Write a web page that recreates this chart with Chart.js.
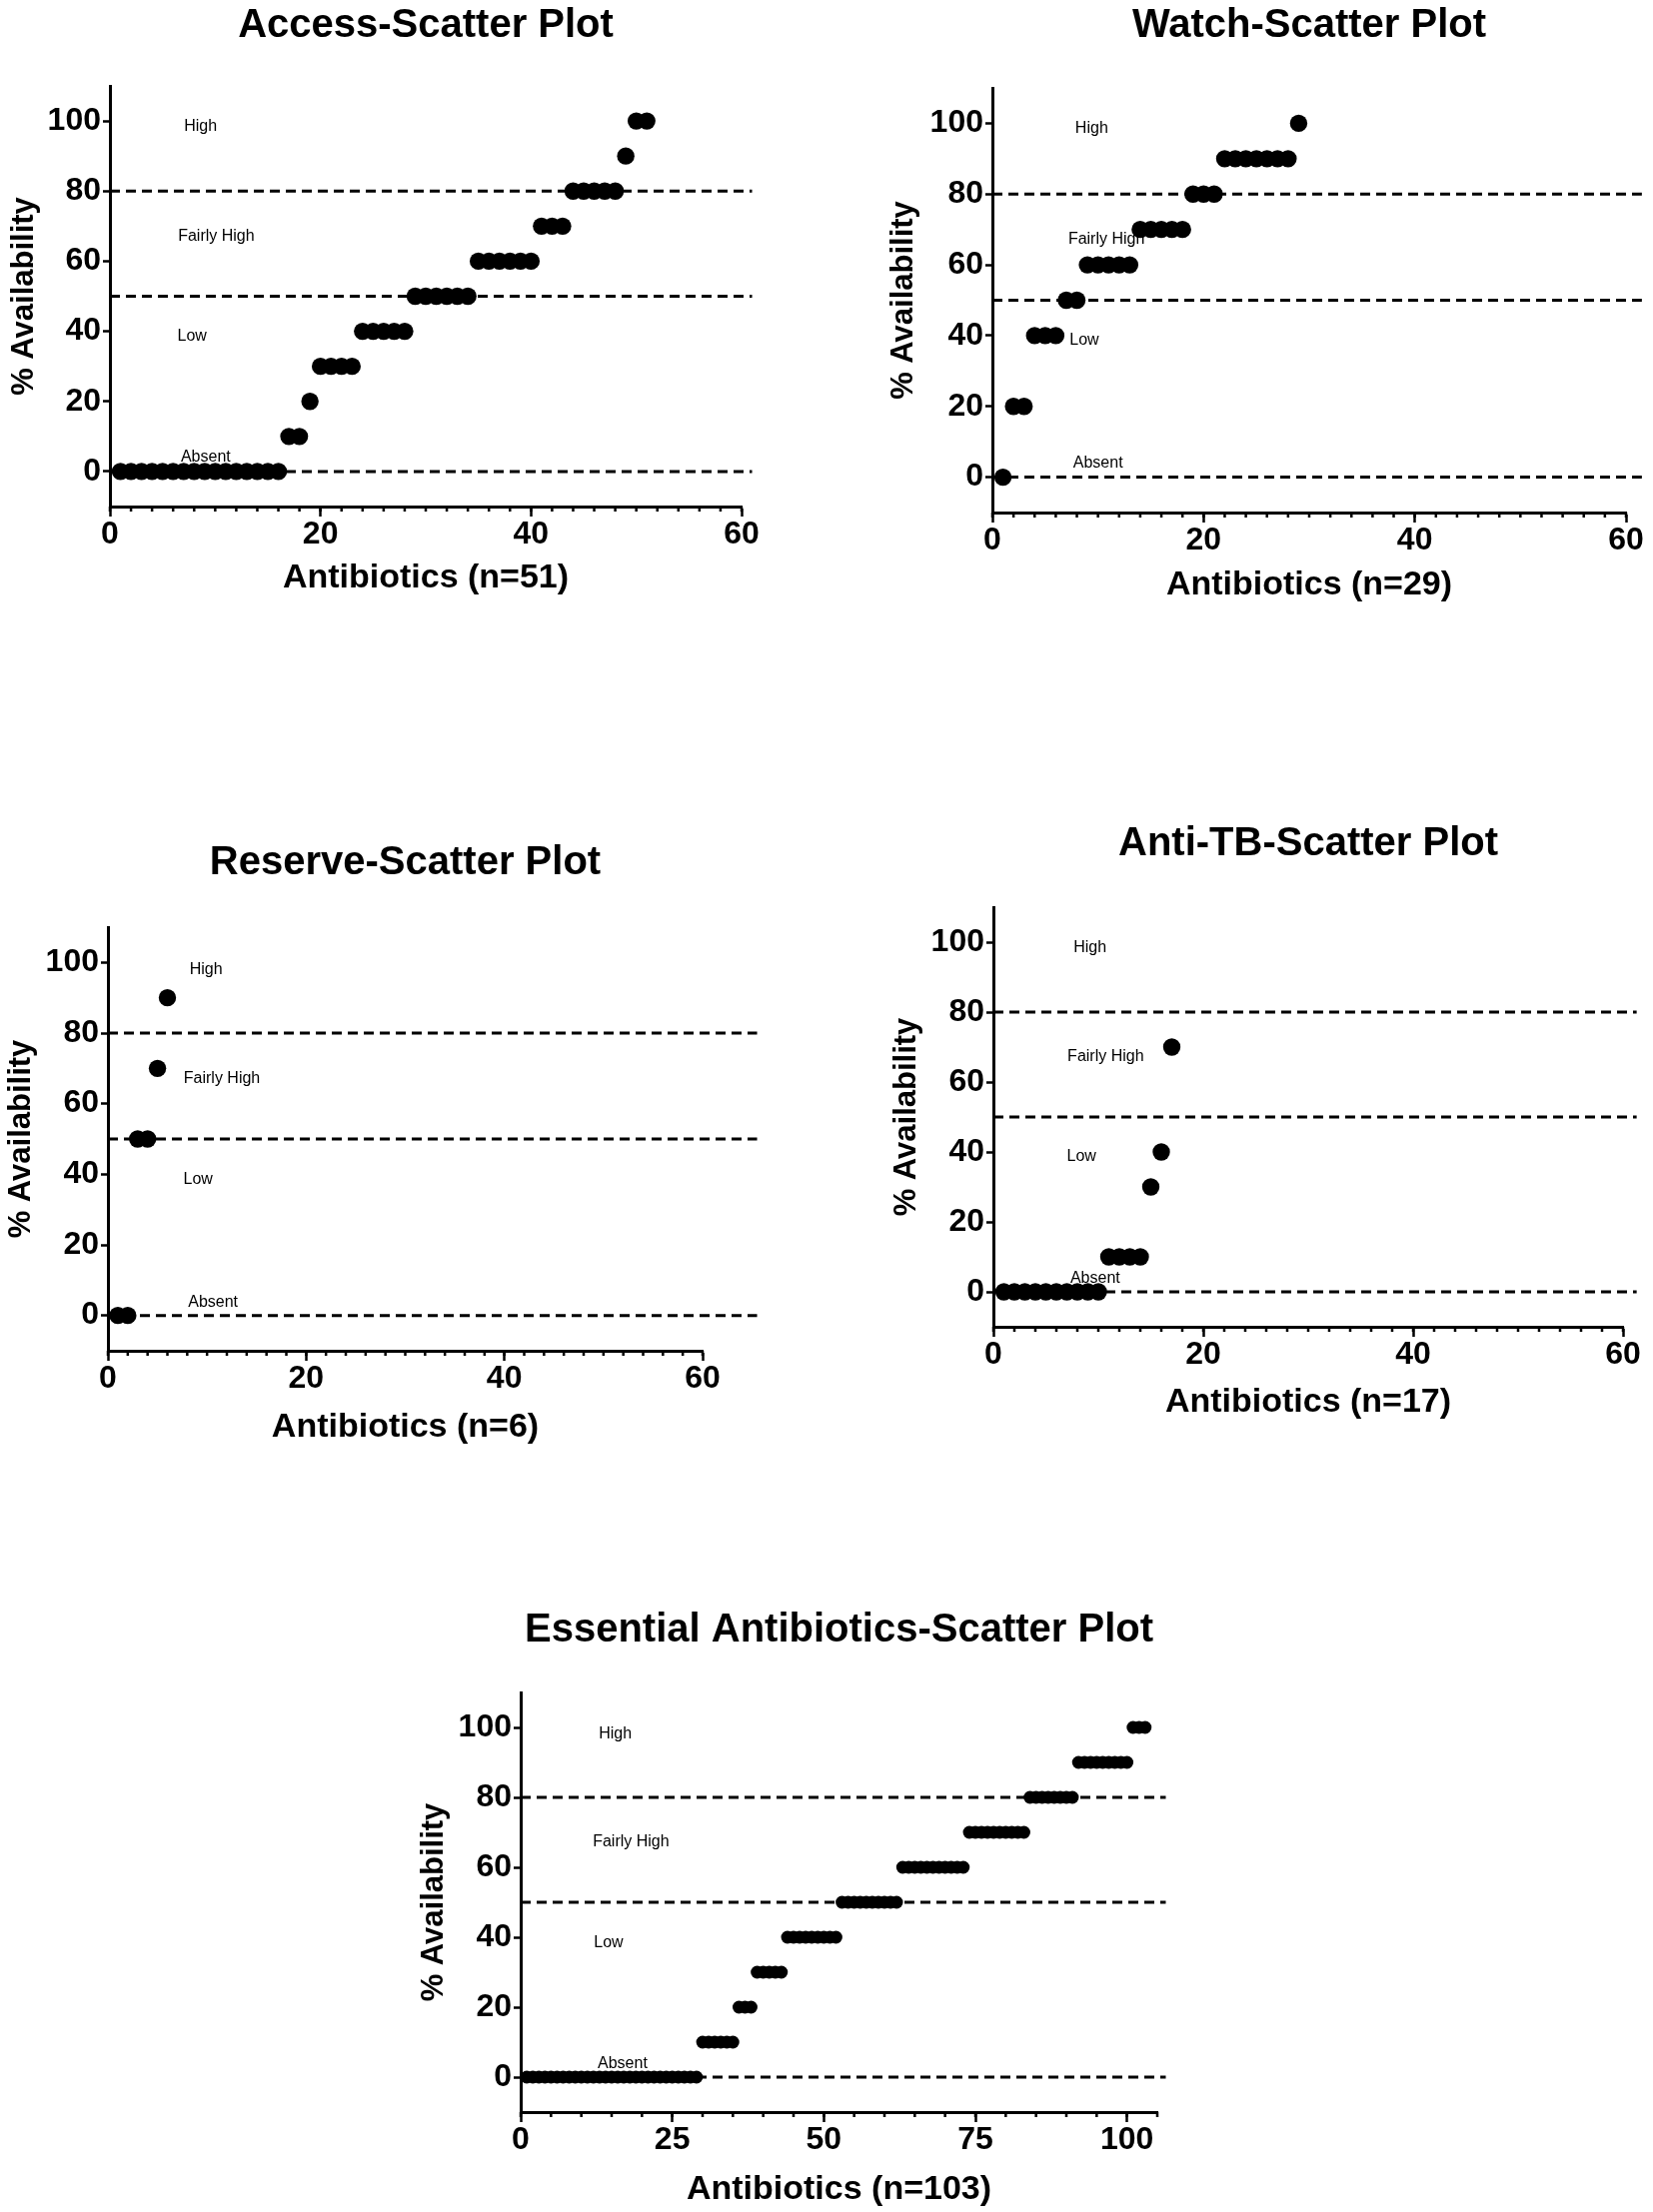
<!DOCTYPE html>
<html>
<head>
<meta charset="utf-8">
<title>Antibiotic availability - scatter plots</title>
<script src="https://cdn.jsdelivr.net/npm/chart.js@4.4.1/dist/chart.umd.min.js"></script>
<style>
    html, body { margin: 0; padding: 0; background: #fff; }
    body { width: 1654px; height: 2214px; position: relative; overflow: hidden; }
    canvas { position: absolute; }
</style>
</head>
<body>
<script>
// % availability of each antibiotic, sorted low to high (one point per antibiotic)
const accessValues = [
    0, 0, 0, 0, 0, 0, 0, 0, 0, 0, 0, 0, 0, 0, 0, 0,
    10, 10, 20, 30, 30, 30, 30, 40, 40, 40, 40, 40,
    50, 50, 50, 50, 50, 50, 60, 60, 60, 60, 60, 60,
    70, 70, 70, 80, 80, 80, 80, 80, 90, 100, 100
];
const watchValues = [
    0, 20, 20, 40, 40, 40, 50, 50, 60, 60, 60, 60, 60,
    70, 70, 70, 70, 70, 80, 80, 80, 90, 90, 90, 90, 90, 90, 90, 100
];
const reserveValues = [0, 0, 50, 50, 70, 90];
const antiTbValues = [0, 0, 0, 0, 0, 0, 0, 0, 0, 0, 10, 10, 10, 10, 30, 40, 70];
const essentialValues = [
    0, 0, 0, 0, 0, 0, 0, 0, 0, 0,
    0, 0, 0, 0, 0, 0, 0, 0, 0, 0,
    0, 0, 0, 0, 0, 0, 0, 0, 0,
    10, 10, 10, 10, 10, 10,
    20, 20, 20,
    30, 30, 30, 30, 30,
    40, 40, 40, 40, 40, 40, 40, 40, 40,
    50, 50, 50, 50, 50, 50, 50, 50, 50, 50,
    60, 60, 60, 60, 60, 60, 60, 60, 60, 60, 60,
    70, 70, 70, 70, 70, 70, 70, 70, 70, 70,
    80, 80, 80, 80, 80, 80, 80, 80,
    90, 90, 90, 90, 90, 90, 90, 90, 90,
    100, 100, 100
];

// Axis ticks and the category cut-offs (dashed lines)
const availabilityTicks = [0, 20, 40, 60, 80, 100];
const countTicks = [0, 20, 40, 60];
const essentialCountTicks = [0, 25, 50, 75, 100];
const thresholds = [0, 50, 80];
const zoneNames = ['High', 'Fairly High', 'Low', 'Absent'];

const FONT = '"Liberation Sans", Arial, Helvetica, sans-serif';
const TITLE_SIZE = 40;
const XTITLE_SIZE = 34;
const YTITLE_SIZE = 31;
const TICK_SIZE = 32;

Chart.defaults.font.family = FONT;
Chart.defaults.color = '#000';

// Panel layout (page pixels) and per-panel settings
const panels = [
    {
        title: 'Access-Scatter Plot', xTitle: 'Antibiotics (n=51)', values: accessValues,
        xTicks: countTicks, xMax: 60, minorStep: 2, lineEnd: 61, radius: 8.7,
        area: { left: 110, top: 86, right: 742, bottom: 507 },
        titleY: 26, xTitleY: 579, yTitleX: 24,
        zonePos: [[8.6, 98.3], [10.1, 67.2], [7.8, 38.7], [9.1, 4]]
    },
    {
        title: 'Watch-Scatter Plot', xTitle: 'Antibiotics (n=29)', values: watchValues,
        xTicks: countTicks, xMax: 60, minorStep: 2, lineEnd: 61.5, radius: 8.7,
        area: { left: 993, top: 88, right: 1627, bottom: 513 },
        titleY: 26, xTitleY: 586, yTitleX: 904,
        zonePos: [[9.4, 98.4], [10.8, 67.3], [8.7, 38.6], [10, 3.9]]
    },
    {
        title: 'Reserve-Scatter Plot', xTitle: 'Antibiotics (n=6)', values: reserveValues,
        xTicks: countTicks, xMax: 60, minorStep: 2, lineEnd: 65.5, radius: 8.7,
        area: { left: 108, top: 928, right: 703, bottom: 1352 },
        titleY: 864, xTitleY: 1429, yTitleX: 21,
        zonePos: [[9.9, 98], [11.5, 67.2], [9.1, 38.4], [10.6, 3.7]]
    },
    {
        title: 'Anti-TB-Scatter Plot', xTitle: 'Antibiotics (n=17)', values: antiTbValues,
        xTicks: countTicks, xMax: 60, minorStep: 2, lineEnd: 61.3, radius: 8.7,
        area: { left: 994, top: 908, right: 1624, bottom: 1328 },
        titleY: 845, xTitleY: 1404, yTitleX: 907,
        zonePos: [[9.2, 98.3], [10.7, 67.4], [8.4, 38.6], [9.7, 3.7]]
    },
    {
        title: 'Essential Antibiotics-Scatter Plot', xTitle: 'Antibiotics (n=103)', values: essentialValues,
        xTicks: essentialCountTicks, xMax: 105, minorStep: 5, lineEnd: 106.4, radius: 6.4,
        area: { left: 521, top: 1694, right: 1158, bottom: 2114 },
        titleY: 1632, xTitleY: 2192, yTitleX: 434,
        zonePos: [[15.6, 98], [18.2, 67.4], [14.5, 38.3], [16.8, 3.7]]
    }
];

// Short unlabeled ticks between the labeled ones on the x axis
const minorTicksPlugin = {
    id: 'minorTicks',
    afterDraw(chart, args, opts) {
        const { ctx, chartArea } = chart;
        const x = chart.scales.x;
        ctx.save();
        ctx.strokeStyle = '#000';
        ctx.lineWidth = 2.5;
        ctx.beginPath();
        for (let v = x.min; v <= x.max + 1e-9; v += opts.step) {
            const px = x.getPixelForValue(v);
            ctx.moveTo(px, chartArea.bottom);
            ctx.lineTo(px, chartArea.bottom + opts.length);
        }
        ctx.stroke();
        ctx.restore();
    }
};

// "High", "Fairly High", ... text inside the plot, drawn under the dots
const zoneLabelsPlugin = {
    id: 'zoneLabels',
    beforeDatasetsDraw(chart, args, opts) {
        const { ctx } = chart;
        const { x, y } = chart.scales;
        ctx.save();
        ctx.font = '16px ' + FONT;
        ctx.fillStyle = '#000';
        ctx.textAlign = 'center';
        ctx.textBaseline = 'middle';
        opts.items.forEach(item => {
            ctx.fillText(item.text, x.getPixelForValue(item.x), y.getPixelForValue(item.y));
        });
        ctx.restore();
    }
};

function buildPanel(p) {
    const top = Math.max(0, p.titleY - 30);
    const left = Math.max(0, p.yTitleX - 22);
    const bottom = p.xTitleY + 22;
    const right = Math.min(1654, p.area.right + 70);

    const canvas = document.createElement('canvas');
    canvas.width = right - left;
    canvas.height = bottom - top;
    canvas.style.left = left + 'px';
    canvas.style.top = top + 'px';
    document.body.appendChild(canvas);

    const titlePadTop = p.titleY - top - TITLE_SIZE * 0.6;
    const titlePadBottom = p.area.top - top - TITLE_SIZE * 1.2 - titlePadTop;

    const points = p.values.map((v, i) => ({ x: i + 1, y: v }));

    const datasets = [{
        label: p.title,
        data: points,
        backgroundColor: '#000',
        borderColor: '#000',
        pointRadius: p.radius,
        pointBorderWidth: 0,
        pointHoverRadius: p.radius,
        showLine: false
    }];

    thresholds.forEach(t => {
        datasets.push({
            type: 'line',
            label: 'cut-off ' + t,
            data: [{ x: 0, y: t }, { x: p.lineEnd, y: t }],
            borderColor: '#000',
            borderWidth: 3,
            borderDash: [10, 6],
            pointRadius: 0,
            fill: false,
            clip: false
        });
    });

    const zoneItems = zoneNames.map((name, i) => ({ text: name, x: p.zonePos[i][0], y: p.zonePos[i][1] }));

    return new Chart(canvas.getContext('2d'), {
        type: 'scatter',
        data: { datasets: datasets },
        options: {
            responsive: false,
            animation: false,
            events: [],
            layout: { padding: { left: 0, top: 0, bottom: 0, right: right - p.area.right } },
            scales: {
                x: {
                    type: 'linear',
                    min: 0,
                    max: p.xMax,
                    afterBuildTicks: scale => { scale.ticks = p.xTicks.map(v => ({ value: v })); },
                    afterFit: scale => { scale.height = bottom - p.area.bottom; },
                    grid: { display: true, drawOnChartArea: false, drawTicks: true, tickLength: 10, tickWidth: 2.5, tickColor: '#000' },
                    border: { display: true, color: '#000', width: 3 },
                    ticks: {
                        color: '#000', padding: 2, maxRotation: 0, autoSkip: false,
                        font: { size: TICK_SIZE, weight: 'bold', lineHeight: 1 }
                    },
                    title: {
                        display: true, text: p.xTitle, color: '#000',
                        font: { size: XTITLE_SIZE, weight: 'bold', lineHeight: 1.2 },
                        padding: { top: 0, bottom: 22 - XTITLE_SIZE * 0.6 }
                    }
                },
                y: {
                    type: 'linear',
                    min: -10,
                    max: 110,
                    afterBuildTicks: scale => { scale.ticks = availabilityTicks.map(v => ({ value: v })); },
                    afterFit: scale => { scale.width = p.area.left - left; },
                    grid: { display: true, drawOnChartArea: false, drawTicks: true, tickLength: 7, tickWidth: 2.5, tickColor: '#000' },
                    border: { display: true, color: '#000', width: 3 },
                    ticks: {
                        color: '#000', padding: 2,
                        font: { size: TICK_SIZE, weight: 'bold', lineHeight: 1 }
                    },
                    title: {
                        display: true, text: '% Availability', color: '#000',
                        font: { size: YTITLE_SIZE, weight: 'bold', lineHeight: 1.2 },
                        padding: { top: p.yTitleX - left - YTITLE_SIZE * 0.6, bottom: 0 }
                    }
                }
            },
            plugins: {
                legend: { display: false },
                tooltip: { enabled: false },
                title: {
                    display: true,
                    text: p.title,
                    fullSize: false,
                    color: '#000',
                    font: { size: TITLE_SIZE, weight: 'bold', lineHeight: 1.2 },
                    padding: { top: titlePadTop, bottom: titlePadBottom }
                },
                minorTicks: { step: p.minorStep, length: 5 },
                zoneLabels: { items: zoneItems }
            }
        },
        plugins: [minorTicksPlugin, zoneLabelsPlugin]
    });
}

panels.forEach(buildPanel);
</script>
</body>
</html>
